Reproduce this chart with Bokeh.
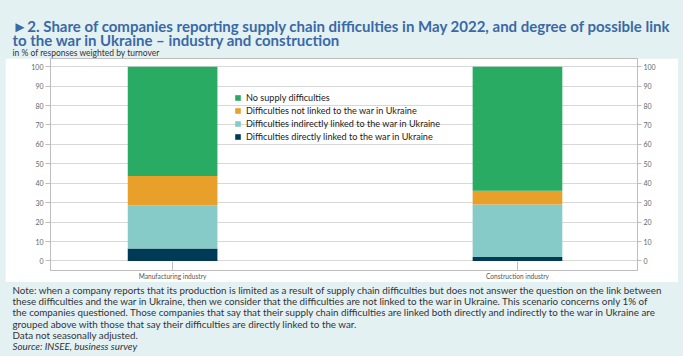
from bokeh.plotting import figure
from bokeh.models import (Range1d, LinearAxis, FixedTicker, Legend, LegendItem,
                          ColumnDataSource, Spacer)
from bokeh.layouts import column, row
from bokeh.core.properties import value
from bokeh.embed import file_html
from bokeh.resources import INLINE

# ---- data ----
categories = ["Manufacturing industry", "Construction industry"]
direct = [6.4, 2.1]
indirect = [22.3, 27.0]
not_linked = [15.0, 7.1]
no_difficulties = [56.3, 63.8]
series_names = ["Difficulties directly linked to the war in Ukraine",
                "Difficulties indirectly linked to the war in Ukraine",
                "Difficulties not linked to the war in Ukraine",
                "No supply difficulties"]
y_ticks = [0, 10, 20, 30, 40, 50, 60, 70, 80, 90, 100]

title_lines = ["\u25BA2. Share of companies reporting supply chain difficulties in May 2022, and degree of possible link",
               "to the war in Ukraine \u2013 industry and construction"]
subtitle = "in % of responses weighted by turnover"
note_lines = [
    "Note: when a company reports that its production is limited as a result of supply chain difficulties but does not answer the question on the link between",
    "these difficulties and the war in Ukraine, then we consider that the difficulties are not linked to the war in Ukraine. This scenario concerns only 1% of",
    "the companies questioned. Those companies that say that their supply chain difficulties are linked both directly and indirectly to the war in Ukraine are",
    "grouped above with those that say their difficulties are directly linked to the war.",
    "Data not seasonally adjusted.",
]
source_line = "Source: INSEE, business survey"

colors = ["#003a57", "#86cbc8", "#e9a02b", "#29ab63"]
BG = "#e4f1f3"
FONT = "Lato"
TITLE_C = "#3a69a6"
W = 683
TOP_H = 58
MAIN_H = 224
NOTE_H = 356 - TOP_H - MAIN_H


def text_fig(h):
    f = figure(width=W, height=h, output_backend="svg", toolbar_location=None,
               x_range=Range1d(0, W), y_range=Range1d(h, 0),
               min_border=0, min_border_left=0, min_border_right=0,
               min_border_top=0, min_border_bottom=0)
    f.title.visible = False
    f.axis.visible = False
    f.grid.visible = False
    f.outline_line_color = None
    f.background_fill_color = BG
    f.border_fill_color = BG
    return f


# ---- title block ----
tf = text_fig(TOP_H)
tf.text(x=[12, 12], y=[25.5, 39.5], text=title_lines, text_font=value(FONT),
        text_font_size="15px", text_font_style="bold", text_color=TITLE_C,
        text_baseline="alphabetic")
tf.text(x=[12], y=[52.5], text=[subtitle], text_font=value(FONT),
        text_font_size="8.5px", text_color="#333333", text_baseline="alphabetic")

# ---- main chart ----
xpos = list(range(len(categories)))
src = ColumnDataSource(dict(x=xpos, s0=direct, s1=indirect, s2=not_linked, s3=no_difficulties))

p = figure(width=673, height=MAIN_H, output_backend="svg", toolbar_location=None,
           x_range=Range1d(-0.354, 1.348), y_range=Range1d(-4.9, 104.2),
           min_border_left=45, min_border_right=41, min_border_top=0, min_border_bottom=9)
p.title.visible = False
p.border_fill_color = "white"
p.background_fill_color = "white"
p.outline_line_color = "#bdbdbd"

renderers = p.vbar_stack(["s0", "s1", "s2", "s3"], x="x", width=0.26, color=colors,
                         line_color=None, source=src)

p.xaxis.ticker = FixedTicker(ticks=xpos)
p.xaxis.major_label_overrides = {i: c for i, c in enumerate(categories)}
p.xaxis.major_tick_in = 9
p.xaxis.major_tick_out = 0
p.xaxis.major_tick_line_color = "#bdbdbd"
p.xaxis.axis_line_color = "#bdbdbd"
p.xaxis.major_label_text_font = FONT
p.xaxis.major_label_text_font_size = "6.6px"
p.xaxis.major_label_text_color = "#555555"
p.xaxis.major_label_standoff = 1
p.xaxis.minor_tick_line_color = None

p.yaxis.ticker = FixedTicker(ticks=y_ticks)
right = LinearAxis(ticker=FixedTicker(ticks=y_ticks))
p.add_layout(right, "right")
for ax in [p.yaxis[0], right]:
    ax.major_tick_in = 0
    ax.major_tick_out = 5
    ax.minor_tick_line_color = None
    ax.major_tick_line_color = "#bdbdbd"
    ax.axis_line_color = "#bdbdbd"
    ax.major_label_text_font = FONT
    ax.major_label_text_font_size = "7px"
    ax.major_label_text_color = "#666666"
    ax.major_label_standoff = 2
right.major_tick_out = 4

p.xgrid.visible = False
p.ygrid.ticker = FixedTicker(ticks=y_ticks)
p.ygrid.grid_line_color = "#d8d8d8"

items = [LegendItem(label=series_names[i], renderers=[renderers[i]]) for i in [3, 2, 1, 0]]
legend = Legend(items=items, location=(184, 128), background_fill_alpha=0,
                border_line_alpha=0, glyph_width=7, glyph_height=7, label_height=10,
                spacing=2, padding=0, margin=0, label_standoff=5,
                label_text_font=FONT, label_text_font_size="9.1px", label_text_color="#222222")
p.add_layout(legend)

# ---- notes ----
nf = text_fig(NOTE_H)
nf.text(x=[12] * len(note_lines), y=[7.5 + 11.2 * i for i in range(len(note_lines))],
        text=note_lines, text_font=value(FONT), text_font_size="9.8px",
        text_color="#333333", text_baseline="alphabetic")
nf.text(x=[12], y=[7.5 + 11.2 * 5], text=[source_line], text_font=value(FONT),
        text_font_size="9.8px", text_font_style="italic", text_color="#333333",
        text_baseline="alphabetic")

layout = column(tf,
                row(Spacer(width=5, height=MAIN_H), p, Spacer(width=5, height=MAIN_H),
                    styles={"background-color": BG}),
                nf, styles={"background-color": BG})

open("out.html", "w").write(file_html(layout, INLINE))
